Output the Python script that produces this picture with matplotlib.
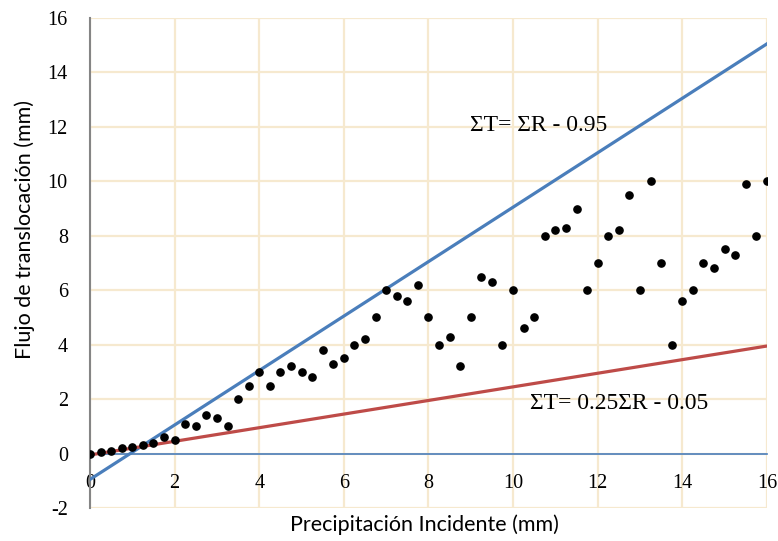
import numpy as np
import matplotlib.pyplot as plt

plt.rcParams['axes.unicode_minus'] = False

# lluvia incidente (mm) y flujo de translocacion (mm)
precip = np.arange(0, 16.01, 0.25)
flujo = [0.0, 0.05, 0.1, 0.2, 0.25, 0.3, 0.4, 0.6, 0.5, 1.1, 1.0, 1.4, 1.3,
         1.0, 2.0, 2.5, 3.0, 2.5, 3.0, 3.2, 3.0, 2.8, 3.8, 3.3, 3.5, 4.0,
         4.2, 5.0, 6.0, 5.8, 5.6, 6.2, 5.0, 4.0, 4.3, 3.2, 5.0, 6.5, 6.3,
         4.0, 6.0, 4.6, 5.0, 8.0, 8.2, 8.3, 9.0, 6.0, 7.0, 8.0, 8.2, 9.5,
         6.0, 10.0, 7.0, 4.0, 5.6, 6.0, 7.0, 6.8, 7.5, 7.3, 9.9, 8.0, 10.0]

# rectas envolventes: pendiente, intercepto
sup_coef = (1.0, -0.95)
inf_coef = (0.25, -0.05)
sup_label = 'ΣT= ΣR - 0.95'
inf_label = 'ΣT= 0.25ΣR - 0.05'

xticks = list(range(0, 17, 2))
yticks = list(range(-2, 17, 2))

grid_c = '#F6E9CF'
blue = '#4A7EBB'
red = '#BE4B48'

fig = plt.figure(figsize=(7.78, 5.41), dpi=100)
ax = fig.add_axes([0.1157, 0.061, 0.870, 0.9057])

ax.set_xlim(0, 16)
ax.set_ylim(-2, 16)
ax.set_xticks(xticks)
ax.set_yticks(yticks)
ax.grid(True, color=grid_c, lw=1.6, zorder=0)
ax.set_axisbelow(True)

xr = np.array([0, 16])
ax.plot(xr, sup_coef[0] * xr + sup_coef[1], color=blue, lw=2.3, zorder=3)
ax.plot(xr, inf_coef[0] * xr + inf_coef[1], color=red, lw=2.3, zorder=3)
ax.plot(precip, flujo, 'o', color='black', ms=5.2, zorder=4)

# eje horizontal cruza en 0
for s in ['top', 'right']:
    ax.spines[s].set_visible(False)
ax.spines['bottom'].set_position(('data', 0))
ax.spines['bottom'].set_color(blue)
ax.spines['bottom'].set_linewidth(1.2)
ax.spines['bottom'].set_zorder(2)
ax.spines['left'].set_color('#858585')
ax.spines['left'].set_linewidth(1.5)
ax.tick_params(length=0, labelsize=14.5)
ax.tick_params(axis='x', pad=15)
ax.tick_params(axis='y', pad=16)
for lab in ax.get_xticklabels() + ax.get_yticklabels():
    lab.set_fontfamily('Liberation Serif')

ax.text(10.6, 12.05, sup_label, fontsize=17, family='Liberation Serif', ha='center', va='center')
ax.text(12.5, 1.85, inf_label, fontsize=17, family='Liberation Serif', ha='center', va='center')

fig.text(0.546, 0.03, 'Precipitación Incidente (mm)', fontsize=15.5, family='Lato', ha='center', va='center')
fig.text(0.032, 0.575, 'Flujo de translocación (mm)', fontsize=15.5, family='Lato', ha='center', va='center', rotation=90)

plt.savefig('out.png', dpi=100)
